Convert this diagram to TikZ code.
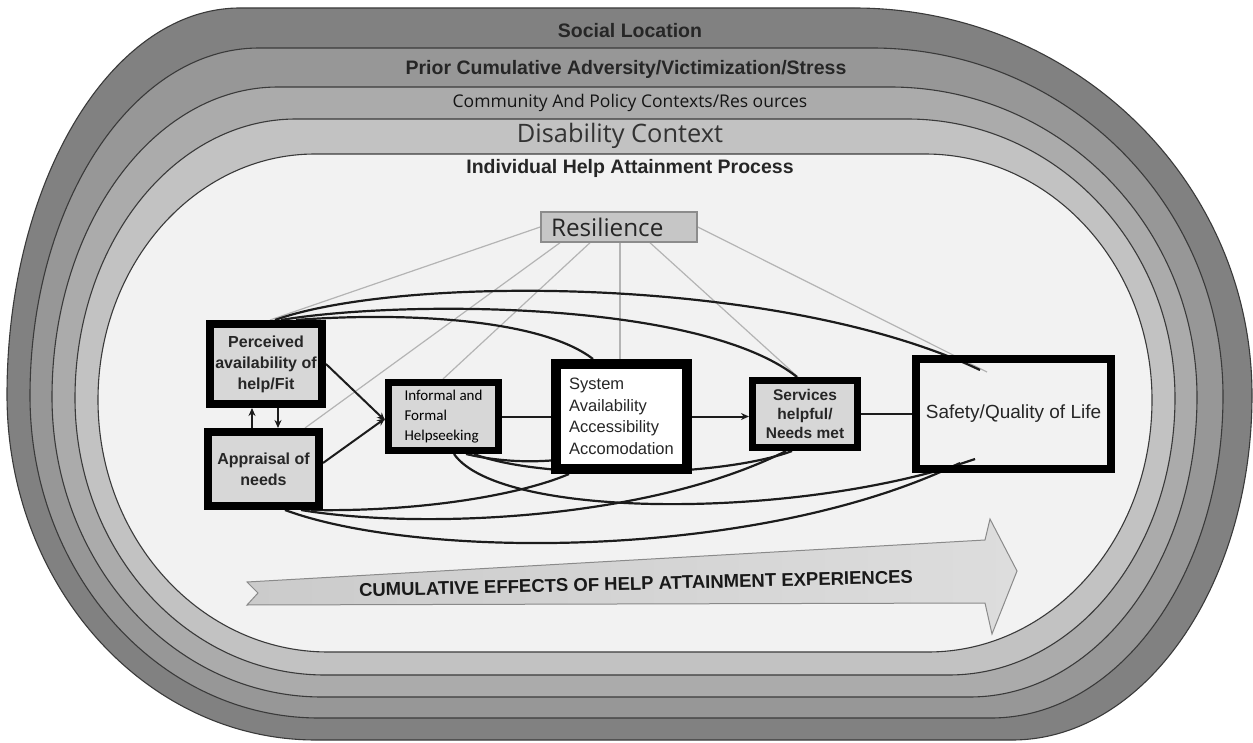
\documentclass[tikz,border=0pt]{standalone}
\usepackage{fontspec}
\setmainfont{Liberation Sans}
\newfontfamily\osans{Open Sans}
\newfontfamily\carl{Carlito}
\usetikzlibrary{arrows.meta}
\definecolor{bandA}{HTML}{818181}
\definecolor{bandB}{HTML}{979797}
\definecolor{bandC}{HTML}{ABABAB}
\definecolor{bandD}{HTML}{C2C2C2}
\definecolor{innerbg}{HTML}{F2F2F2}
\definecolor{bandline}{HTML}{3A3A3A}
\definecolor{boxfill}{HTML}{D7D7D7}
\definecolor{txt}{HTML}{262626}
\definecolor{curvecol}{HTML}{1C1C1C}
\definecolor{rescol}{HTML}{B4B4B4}
\definecolor{resfill}{HTML}{C6C6C6}
\definecolor{resborder}{HTML}{8C8C8C}
\definecolor{arrfillL}{HTML}{CBCBCB}
\definecolor{arrfillR}{HTML}{DDDDDD}
\definecolor{arrline}{HTML}{8A8A8A}
\pgfdeclarelayer{back}
\pgfdeclarelayer{mid}
\pgfsetlayers{back,mid,main}
% L T R B TL TR BR BL M
\newcommand{\myring}[9]{%
 (#1,#9) .. controls (#1,{#9-0.5523*(#9-#2)}) and ({#5-0.5523*(#5-#1)},#2) .. (#5,#2)
 -- (#6,#2) .. controls ({#6+0.5523*(#3-#6)},#2) and (#3,{#9-0.5523*(#9-#2)}) .. (#3,#9)
 .. controls (#3,{#9+0.5523*(#4-#9)}) and ({#7+0.5523*(#3-#7)},#4) .. (#7,#4)
 -- (#8,#4) .. controls ({#8-0.5523*(#8-#1)},#4) and (#1,{#9+0.5523*(#4-#9)}) .. (#1,#9) -- cycle}
\begin{document}
\begin{tikzpicture}[x=1pt,y=-1pt,
  bandedge/.style={draw=bandline, line width=1.1pt},
  boxA/.style={draw=black, fill=boxfill, inner sep=0pt, align=center, text=txt},
  curve/.style={draw=curvecol, line width=2.2pt},
  resl/.style={draw=rescol, line width=1.2pt},
  conn/.style={draw=curvecol, line width=2pt},
  tip/.style={-{Stealth[length=8pt,width=7pt]}},
  title/.style={anchor=base, text=txt}]
\useasboundingbox (0,0) rectangle (1253,743);

% ---------- nodes (main layer) ----------
\node[title, font=\fontsize{19.5}{22}\selectfont\bfseries] (t1) at (630,38) {Social Location};
\node[title, font=\fontsize{19.5}{22}\selectfont\bfseries] (t2) at (626,75) {Prior Cumulative Adversity/Victimization/Stress};
\node[title, font=\osans\fontsize{17.5}{19}\selectfont, text=black!92] (t3) at (630,108) {Community And Policy Contexts/Res ources};
\node[title, font=\osans\fontsize{25.4}{27}\selectfont, text=black!80] (t4) at (620,143) {Disability Context};
\node[title, font=\fontsize{19.5}{22}\selectfont\bfseries] (t5) at (630,174) {Individual Help Attainment Process};

\node[draw=resborder, fill=resfill, line width=1.5pt, minimum width=156pt, minimum height=30pt,
      inner sep=0pt, text width=136pt, align=left, font=\osans\fontsize{24.3}{26}\selectfont, text=txt] (res) at (619,227) {Resilience};

\node[boxA, line width=8pt, minimum width=112pt, minimum height=80pt,
      font=\fontsize{16}{21}\selectfont\bfseries] (perc) at (266,364) {Perceived\\availability of\\help/Fit};
\node[boxA, line width=8pt, minimum width=111pt, minimum height=74pt,
      font=\fontsize{16}{21}\selectfont\bfseries] (appr) at (263.5,469) {Appraisal of\\needs};
\node[boxA, line width=7pt, minimum width=110pt, minimum height=68pt, align=left, text=black,
      font=\carl\fontsize{15}{20}\selectfont] (inf) at (443.5,416.5) {Informal and\\Formal\\Helpseeking};
\node[boxA, fill=white, line width=10pt, minimum width=131pt, minimum height=105pt, align=left,
      font=\fontsize{16.5}{21.5}\selectfont] (sys) at (621.5,416.5) {System\\Availability\\Accessibility\\Accomodation};
\node[boxA, line width=7pt, minimum width=105pt, minimum height=67pt,
      font=\fontsize{15.5}{19}\selectfont\bfseries] (serv) at (805,414) {Services\\helpful/\\Needs met};
\node[draw=black, line width=8pt, minimum width=195pt, minimum height=110pt, inner sep=0pt,
      text=txt, font=\fontsize{19}{22}\selectfont] (safe) at (1013.5,414) {Safety/Quality of Life};

\node[rotate=1.4, text=black!90, inner sep=0pt, font=\fontsize{18.5}{20}\selectfont\bfseries] (cum) at (636,583.5)
  {CUMULATIVE EFFECTS OF HELP ATTAINMENT EXPERIENCES};

\coordinate (q1) at (980,370);
\coordinate (q3) at (987,372);
\coordinate (q4) at (960,463);
\coordinate (q5) at (975,459);

% ---------- background bands ----------
\begin{pgfonlayer}{back}
\fill[white] (0,0) rectangle (1253,743);
\fill[bandA] \myring{7}{8}{1252}{740}{240}{854}{1012}{316}{395};
\fill[bandB] \myring{30}{48}{1223}{718}{259}{872}{991}{319}{396};
\fill[bandC] \myring{52}{87}{1197}{697}{278}{890}{970}{322}{397};
\fill[bandD] \myring{75}{119}{1175}{675}{296}{907}{949}{325}{398};
\fill[innerbg] \myring{98}{154}{1152}{652}{315}{925}{928}{328}{400};
\path[bandedge] \myring{7}{8}{1252}{740}{240}{854}{1012}{316}{395};
\path[bandedge] \myring{30}{48}{1223}{718}{259}{872}{991}{319}{396};
\path[bandedge] \myring{52}{87}{1197}{697}{278}{890}{970}{322}{397};
\path[bandedge] \myring{75}{119}{1175}{675}{296}{907}{949}{325}{398};
\path[bandedge] \myring{98}{154}{1152}{652}{315}{925}{928}{328}{400};
% cumulative arrow
\shade[left color=arrfillL, right color=arrfillR, draw=arrline, line width=1pt]
  (247,582) -- (985,540) -- (990,519) -- (1017,571) -- (992,634) -- (985,603) -- (247,605) -- (258,593) -- cycle;
\end{pgfonlayer}

% ---------- connectors (mid layer) ----------
\begin{pgfonlayer}{mid}
% resilience lines
\draw[resl] (res.west) -- ([xshift=4pt]perc.north);
\draw[resl] ([xshift=-59pt]res.south) -- ([xshift=41.5pt]appr.north);
\draw[resl] ([xshift=-29pt]res.south) -- ([xshift=-0.5pt]inf.north);
\draw[resl] ([xshift=1pt]res.south) -- ([xshift=1pt]res.south |- sys.north);
\draw[resl] ([xshift=31pt]res.south) -- ([xshift=-7pt]serv.north);
\draw[resl] (res.east) -- (q3);
% upper curves
\draw[curve] ([xshift=9pt]perc.north) .. controls (400,275) and (780,275) .. (q1);
\draw[curve] ([xshift=15pt]perc.north) .. controls (400,300) and (700,300) .. ([xshift=-8pt]serv.north);
\draw[curve] ([xshift=30pt]perc.north) .. controls (400,312) and (540,318) .. ([xshift=-28.5pt]sys.north);
% lower curves
\draw[curve] ([xshift=47.5pt]appr.south) .. controls (420,512) and (520,495) .. ([xshift=-52.5pt]sys.south);
\draw[curve] ([xshift=37.5pt]appr.south) .. controls (420,530) and (650,520) .. ([xshift=-19pt]serv.south);
\draw[curve] ([xshift=21.5pt]appr.south) .. controls (420,560) and (760,560) .. (q4);
\draw[curve] ([xshift=10.5pt]inf.south) .. controls (500,520) and (800,520) .. (q5);
\draw[curve] ([xshift=30.5pt]inf.south) .. controls (540,480) and (720,478) .. ([xshift=-13pt]serv.south);
\draw[curve] ([xshift=22.5pt]inf.south) .. controls (500,462) and (530,462) .. ([yshift=-44pt]sys.west);
% straight connectors
\draw[conn, tip] (perc.east) -- ([yshift=-4pt]inf.west);
\draw[conn, tip] ([yshift=6pt]appr.east) -- ([yshift=-2pt]inf.west);
\draw[conn, tip] ([xshift=-14pt]perc.south |- appr.north) -- ([xshift=-14pt]perc.south);
\draw[conn, tip] ([xshift=12pt]perc.south) -- ([xshift=12pt]perc.south |- appr.north);
\draw[conn] (inf.east) -- (sys.west);
\draw[conn, tip] (sys.east) -- (sys.east -| serv.west);
\draw[conn] (serv.east) -- (serv.east -| safe.west);
\end{pgfonlayer}
\end{tikzpicture}
\end{document}
